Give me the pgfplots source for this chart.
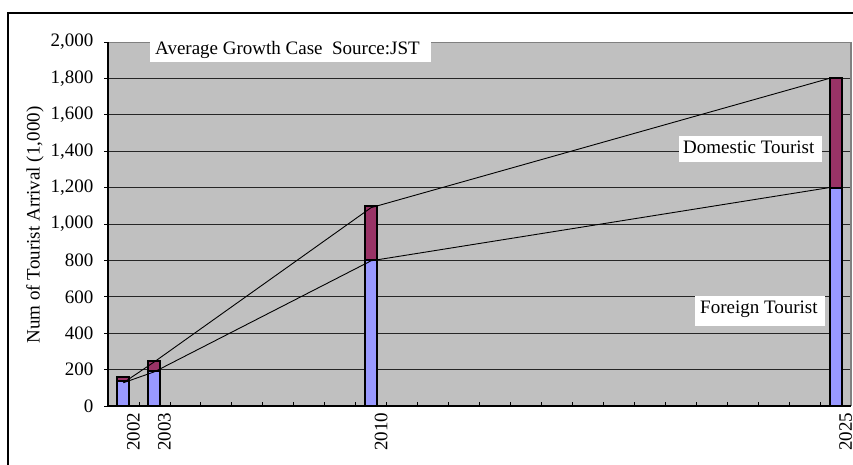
\documentclass[border=0pt]{standalone}
\usepackage{pgfplots}
\pgfplotsset{compat=1.18}
\usepackage{fontspec}
\setmainfont{Liberation Serif}
\definecolor{foreign}{HTML}{9999FF}
\definecolor{domestic}{HTML}{993366}
\definecolor{plotgray}{HTML}{C0C0C0}
\definecolor{edgegray}{HTML}{808080}
\begin{document}
\fontsize{19}{23}\selectfont
\begin{tikzpicture}
\useasboundingbox (0pt,0pt) rectangle (853pt,464pt);
% outer chart frame (right and bottom edges are cut off in the original)
\draw[line width=1.8pt] (8pt,-20pt) -- (8pt,451pt) -- (880pt,451pt);
\begin{axis}[
  at={(108pt,58pt)}, anchor=south west,
  scale only axis, width=743pt, height=364pt,
  xmin=2001.5, xmax=2025.5, ymin=0, ymax=2000,
  clip=false,
  axis background/.style={fill=plotgray},
  axis line style={draw=none},
  xtick={2002.5,2003.5,...,2024.5}, xticklabels={},
  xtick pos=bottom, ytick pos=left,
  major tick length=4pt,
  xtick style={black, line width=0.8pt},
  ytick={0,200,...,2000},
  ytick style={black, line width=0.8pt, xshift=-4pt},
  ymajorgrids,
  grid style={black!85, line width=0.7pt},
  /pgf/number format/assume math mode=true,
  yticklabel style={xshift=-8pt},
  extra x ticks={2002,2003,2010,2025},
  extra x tick labels={2002,2003,2010,2025},
  extra x tick style={major tick length=0pt, grid=none,
    tick label style={rotate=90, anchor=east, yshift=-10pt}},
  after end axis/.code={
    \draw[edgegray, line width=0.8pt] (rel axis cs:0,1) -- (rel axis cs:1,1);
    \draw[edgegray, line width=1.5pt] (rel axis cs:1,1) -- (rel axis cs:1,0);
    \draw[black, line width=1.2pt] (rel axis cs:0,1) -- (rel axis cs:0,0) -- (rel axis cs:1,0);
  },
]
% total (domestic on top of foreign)
\addplot[ybar, bar width=12pt, bar shift=0pt, fill=domestic, draw=black, line width=2pt]
  coordinates {(2002,160) (2003,250) (2010,1100) (2025,1800)};
% foreign
\addplot[ybar, bar width=12pt, bar shift=0pt, fill=foreign, draw=black, line width=2pt]
  coordinates {(2002,135) (2003,195) (2010,800) (2025,1200)};
% growth lines
\addplot[black, line width=0.9pt, mark=none]
  coordinates {(2002,128) (2003,243) (2010,1090) (2024.8,1800)};
\addplot[black, line width=0.9pt, mark=none]
  coordinates {(2002,128) (2003,188) (2010,798) (2024.8,1200)};
\end{axis}
\node[rotate=90] at (35pt,239pt) {Num of Tourist Arrival (1,000)};
\fill[white] (150pt,402pt) rectangle (431pt,440pt);
\node[anchor=base west, inner sep=0pt] at (155pt,409pt) {Average Growth Case\ \ Source:JST};
\fill[white] (679pt,302pt) rectangle (822pt,328pt);
\node[anchor=base west, inner sep=0pt] at (683pt,310pt) {Domestic Tourist};
\fill[white] (695pt,138pt) rectangle (825pt,168pt);
\node[anchor=base west, inner sep=0pt] at (700pt,151pt) {Foreign Tourist};
\end{tikzpicture}
\end{document}
